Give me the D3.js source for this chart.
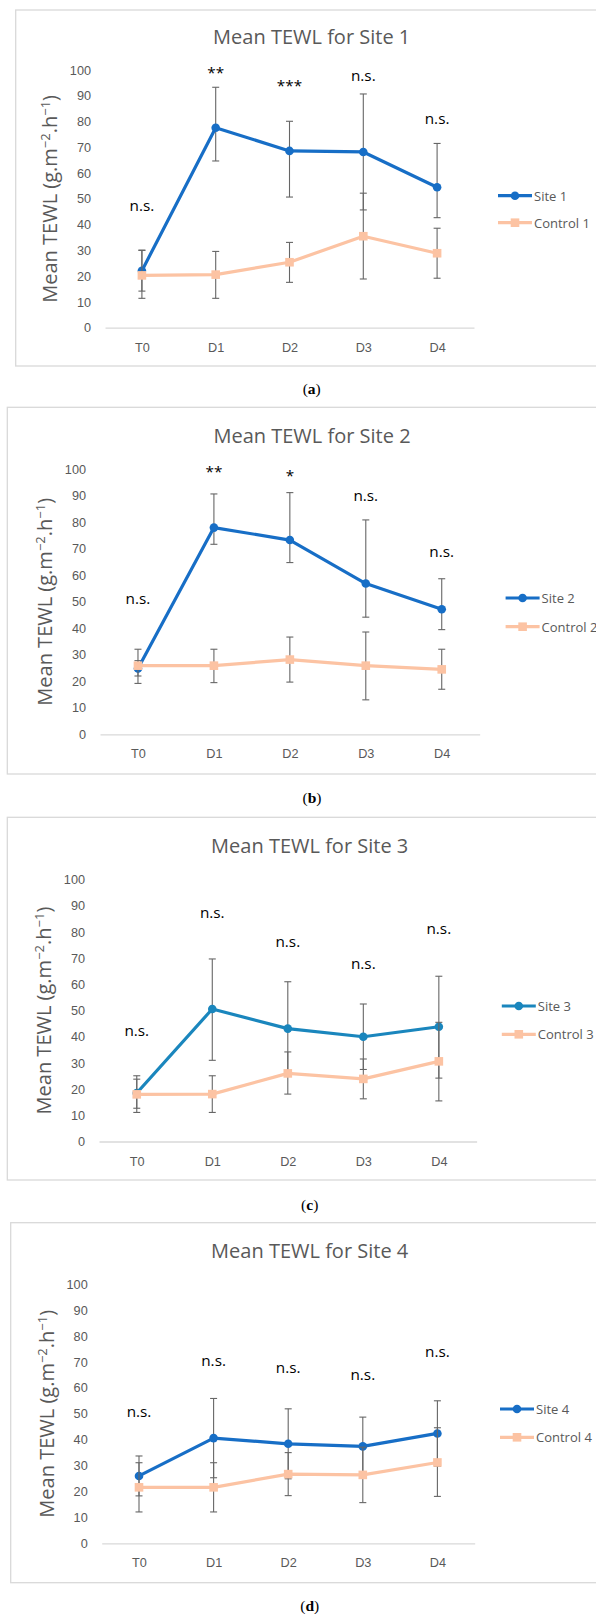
<!DOCTYPE html>
<html>
<head>
<meta charset="utf-8">
<script src="https://cdn.jsdelivr.net/npm/d3@7"></script>
<style>
  body { margin: 0; background: #fff; }
  svg { display: block; font-family: "Open Sans", sans-serif; }
  .tick-lbl text { fill: #595959; font-size: 12.7px; }
  .chart-title { fill: #595959; font-size: 20px; }
  .y-title { fill: #595959; font-size: 20px; }
  .leg-text { fill: #595959; font-size: 13px; }
  .ann { fill: #000; font-size: 15.3px; }
  .caption { font-family: "Liberation Serif", serif; font-size: 15.5px; fill: #000; }
</style>
</head>
<body>
<div id="chart-area"></div>
<script>
// four small-multiple line charts, TEWL per site vs control

const WIDTH = 596;
const HEIGHT = 1614;

const categories = ["T0", "D1", "D2", "D3", "D4"];
const yTicks = [0, 10, 20, 30, 40, 50, 60, 70, 80, 90, 100];

const titles = ["Mean TEWL for Site 1", "Mean TEWL for Site 2", "Mean TEWL for Site 3", "Mean TEWL for Site 4"];
const siteNames = ["Site 1", "Site 2", "Site 3", "Site 4"];
const controlNames = ["Control 1", "Control 2", "Control 3", "Control 4"];
const captions = ["a", "b", "c", "d"];

// means and error bar ends
const siteMean = [
    [22.1, 77.6, 68.6, 68.2, 54.5],
    [24.8, 78.0, 73.3, 56.9, 47.2],
    [18.5, 50.6, 43.1, 40.0, 43.8],
    [26.0, 40.6, 38.4, 37.4, 42.4]
];
const siteHi = [
    [30.0, 93.3, 80.1, 90.7, 71.5],
    [27.8, 90.7, 91.2, 80.9, 58.7],
    [23.8, 69.7, 61.0, 52.5, 63.1],
    [33.7, 55.9, 51.9, 48.7, 55.0]
];
const siteLo = [
    [14.2, 64.7, 50.7, 45.7, 42.7],
    [22.0, 71.7, 64.8, 44.2, 39.5],
    [12.7, 31.0, 25.2, 27.5, 24.2],
    [18.3, 25.3, 24.9, 26.1, 29.8]
];
const controlMean = [
    [20.3, 20.6, 25.4, 35.5, 28.9],
    [25.9, 25.9, 28.2, 25.9, 24.5],
    [18.0, 18.1, 26.0, 23.9, 30.6],
    [21.6, 21.6, 26.7, 26.4, 31.2]
];
const controlHi = [
    [30.1, 29.6, 33.1, 52.2, 38.6],
    [32.1, 32.1, 36.7, 38.6, 32.1],
    [25.1, 25.1, 34.2, 31.5, 45.5],
    [31.1, 31.1, 35.0, 37.1, 44.6]
];
const controlLo = [
    [11.4, 11.4, 17.6, 18.9, 19.2],
    [19.2, 19.5, 19.7, 13.0, 17.0],
    [11.1, 11.1, 18.1, 16.3, 15.5],
    [12.1, 12.1, 18.4, 15.7, 18.1]
];

// significance marks and the level they sit at
const annLabels = [
    ["n.s.", "**", "***", "n.s.", "n.s."],
    ["n.s.", "**", "*", "n.s.", "n.s."],
    ["n.s.", "n.s.", "n.s.", "n.s.", "n.s."],
    ["n.s.", "n.s.", "n.s.", "n.s.", "n.s."]
];
const annLevels = [
    [47.0, 100.0, 95.2, 97.4, 80.6],
    [50.9, 100.4, 98.7, 89.4, 68.5],
    [42.0, 86.9, 76.0, 67.4, 80.9],
    [50.4, 70.1, 67.3, 64.6, 73.4]
];

const siteColors = ["#176ec6", "#176ec6", "#1a86bd", "#176ec6"];
const CONTROL_COLOR = "#fcc3a3";
const ERR_COLOR = "#666666";

// panel geometry (px)
const layout = [
    {boxX: 15.7, boxY: 10,    boxB: 366,    x0: 105,   x1: 474,   y0: 327.7,  y100: 70,     titleX: 311.7, titleY: 36.7,  legX: 498,   legY: 195.7, legDy: 27,   capY: 388},
    {boxX: 7.3,  boxY: 407.3, boxB: 774,    x0: 100,   x1: 479.7, y0: 734.3,  y100: 469.3,  titleX: 312,   titleY: 435,   legX: 505.6, legY: 598,   legDy: 28.7, capY: 796.7},
    {boxX: 7.3,  boxY: 817.3, boxB: 1180,   x0: 99,    x1: 476.6, y0: 1141.5, y100: 879.6,  titleX: 309.7, titleY: 845,   legX: 501.8, legY: 1006,  legDy: 28.3, capY: 1204.3},
    {boxX: 10.7, boxY: 1222.7, boxB: 1582.7, x0: 101.7, x1: 474.7, y0: 1543.3, y100: 1284.2, titleX: 309.7, titleY: 1250.7, legX: 500,  legY: 1409,  legDy: 28.3, capY: 1605}
];

let svg = d3.select("#chart-area").append("svg")
    .attr("width", WIDTH)
    .attr("height", HEIGHT);

function drawPanel(i) {
    const L = layout[i];
    const g = svg.append("g").attr("class", "panel");

    // outer frame, runs off the right edge like the source
    g.append("rect")
        .attr("x", L.boxX)
        .attr("y", L.boxY)
        .attr("width", WIDTH + 20 - L.boxX)
        .attr("height", L.boxB - L.boxY)
        .attr("fill", "none")
        .attr("stroke", "#d9d9d9")
        .attr("stroke-width", 1.3);

    let x = d3.scalePoint().domain(categories).range([L.x0, L.x1]).padding(0.5);
    let y = d3.scaleLinear().domain([0, 100]).range([L.y0, L.y100]);

    // y labels only, no axis line
    g.append("g")
        .attr("class", "tick-lbl")
        .attr("transform", `translate(${L.x0},0)`)
        .call(d3.axisLeft(y).tickValues(yTicks).tickSize(0).tickPadding(14))
        .call(a => a.select(".domain").remove());

    // x axis
    g.append("g")
        .attr("class", "tick-lbl")
        .attr("transform", `translate(0,${L.y0})`)
        .call(d3.axisBottom(x).tickSize(0).tickSizeOuter(0).tickPadding(15))
        .call(a => a.select(".domain").attr("stroke", "#d9d9d9").attr("stroke-width", 1.3));

    g.append("text")
        .attr("class", "chart-title")
        .attr("x", L.titleX)
        .attr("y", L.titleY)
        .attr("text-anchor", "middle")
        .attr("dominant-baseline", "central")
        .text(titles[i]);

    // rotated y title with superscripts
    let yt = g.append("text")
        .attr("class", "y-title")
        .attr("text-anchor", "middle")
        .attr("transform", `translate(${L.x0 - 55},${(L.y0 + L.y100) / 2}) rotate(-90)`)
        .attr("dy", "0.35em");
    yt.append("tspan").text("Mean TEWL (g.m");
    yt.append("tspan").attr("dy", -7).style("font-size", "13px").text("\u22122");
    yt.append("tspan").attr("dy", 7).text(".h");
    yt.append("tspan").attr("dy", -7).style("font-size", "13px").text("\u22121");
    yt.append("tspan").attr("dy", 7).text(")");

    const series = [
        {name: siteNames[i], mean: siteMean[i], hi: siteHi[i], lo: siteLo[i], color: siteColors[i], marker: "circle"},
        {name: controlNames[i], mean: controlMean[i], hi: controlHi[i], lo: controlLo[i], color: CONTROL_COLOR, marker: "square"}
    ];

    const line = d3.line().x((d, k) => x(categories[k])).y(d => y(d));

    series.forEach(s => {
        const pts = categories.map((c, k) => ({c: c, m: s.mean[k], hi: s.hi[k], lo: s.lo[k]}));

        // error bars
        let eb = g.append("g").attr("class", "errbars");
        eb.selectAll("line.stem").data(pts).enter().append("line")
            .attr("x1", d => x(d.c)).attr("x2", d => x(d.c))
            .attr("y1", d => y(d.hi)).attr("y2", d => y(d.lo))
            .attr("stroke", ERR_COLOR).attr("stroke-width", 1.1);
        ["hi", "lo"].forEach(k => {
            eb.selectAll("line.cap-" + k).data(pts).enter().append("line")
                .attr("x1", d => x(d.c) - 3.5).attr("x2", d => x(d.c) + 3.5)
                .attr("y1", d => y(d[k])).attr("y2", d => y(d[k]))
                .attr("stroke", ERR_COLOR).attr("stroke-width", 1.1);
        });

        g.append("path")
            .datum(s.mean)
            .attr("d", line)
            .attr("fill", "none")
            .attr("stroke", s.color)
            .attr("stroke-width", 3.2)
            .attr("stroke-linejoin", "round");

        if (s.marker === "circle") {
            g.selectAll(null).data(pts).enter().append("circle")
                .attr("cx", d => x(d.c)).attr("cy", d => y(d.m))
                .attr("r", 4.3).attr("fill", s.color);
        } else {
            g.selectAll(null).data(pts).enter().append("rect")
                .attr("x", d => x(d.c) - 4.3).attr("y", d => y(d.m) - 4.3)
                .attr("width", 8.6).attr("height", 8.6).attr("fill", s.color);
        }
    });

    // significance labels, centred on their level
    g.selectAll("text.ann").data(annLabels[i]).enter().append("text")
        .attr("class", "ann")
        .attr("text-anchor", "middle")
        .attr("x", (d, k) => x(categories[k]))
        .attr("y", (d, k) => y(annLevels[i][k]) + (d.includes("*") ? 8.4 : 4.1))
        .text(d => d);

    // legend
    series.forEach((s, k) => {
        const ly = L.legY + k * L.legDy;
        g.append("line")
            .attr("x1", L.legX).attr("x2", L.legX + 34)
            .attr("y1", ly).attr("y2", ly)
            .attr("stroke", s.color).attr("stroke-width", 3.2);
        if (s.marker === "circle") {
            g.append("circle").attr("cx", L.legX + 17).attr("cy", ly).attr("r", 4.3).attr("fill", s.color);
        } else {
            g.append("rect").attr("x", L.legX + 12.7).attr("y", ly - 4.3)
                .attr("width", 8.6).attr("height", 8.6).attr("fill", s.color);
        }
        g.append("text")
            .attr("class", "leg-text")
            .attr("x", L.legX + 36)
            .attr("y", ly)
            .attr("dominant-baseline", "central")
            .text(s.name);
    });

    // caption (a), (b) ...
    let cap = g.append("text")
        .attr("class", "caption")
        .attr("x", L.titleX)
        .attr("y", L.capY)
        .attr("text-anchor", "middle")
        .attr("dominant-baseline", "central");
    cap.append("tspan").text("(");
    cap.append("tspan").style("font-weight", "bold").text(captions[i]);
    cap.append("tspan").text(")");
}

for (let i = 0; i < 4; i++) drawPanel(i);
</script>
</body>
</html>
